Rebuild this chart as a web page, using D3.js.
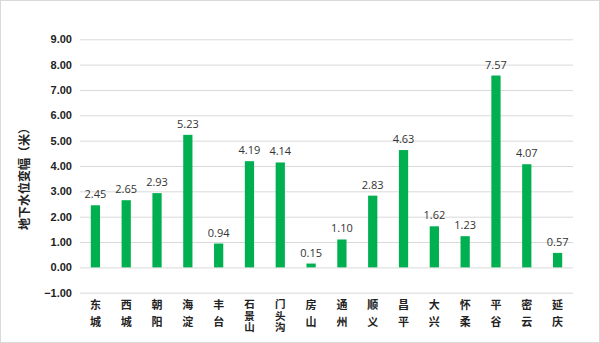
<!DOCTYPE html>
<html><head><meta charset="utf-8">
<script src="https://cdn.jsdelivr.net/npm/d3@7"></script>
<style>body{margin:0;background:#fff}svg{display:block}</style>
</head><body>
<svg id="c" width="600" height="343"></svg>
<script>
const categories = ["东城","西城","朝阳","海淀","丰台","石景山","门头沟","房山","通州","顺义","昌平","大兴","怀柔","平谷","密云","延庆"];
const values = [2.45,2.65,2.93,5.23,0.94,4.19,4.14,0.15,1.10,2.83,4.63,1.62,1.23,7.57,4.07,0.57];
const yTicks = [-1,0,1,2,3,4,5,6,7,8,9];
const yTitle = "地下水位变幅（米）";

(function(){
const svg = d3.select("#c");
svg.append("rect").attr("x",0.5).attr("y",0.5).attr("width",599).attr("height",342)
  .attr("fill","#fff").attr("stroke","#d9d9d9");

const mL=80, mR=573, mT=39.3, mB=292.7;
const y = d3.scaleLinear().domain([-1,9]).range([mB, mT]);
const x = d3.scaleBand().domain(categories).range([mL,mR]).paddingInner(0.7).paddingOuter(0.35);

const yAxis = d3.axisLeft(y).tickValues(yTicks).tickFormat(d3.format(".2f")).tickSize(-(mR-mL)).tickPadding(8);
const gy = svg.append("g").attr("transform",`translate(${mL},0)`).call(yAxis);
gy.select(".domain").remove();
gy.selectAll(".tick line").attr("stroke","#d9d9d9").attr("stroke-width",1);
gy.selectAll(".tick text").attr("font-family","'Liberation Sans', Arial, sans-serif")
  .attr("font-size",11).attr("font-weight","bold").attr("fill","#222");

svg.append("text").attr("transform",`translate(29,176) rotate(-90)`)
  .attr("text-anchor","middle").attr("font-family","'Noto Sans CJK SC', sans-serif")
  .attr("font-size",12).attr("font-weight","bold").attr("fill","#222").text(yTitle);

svg.append("g").selectAll("rect").data(values).join("rect")
  .attr("x",(d,i)=>x(categories[i])).attr("width",x.bandwidth())
  .attr("y",d=>y(Math.max(0,d))).attr("height",d=>Math.abs(y(d)-y(0)))
  .attr("fill","#00B050");

svg.append("g").selectAll("text").data(values).join("text")
  .attr("x",(d,i)=>x(categories[i])+x.bandwidth()/2).attr("y",d=>y(d)-7)
  .attr("text-anchor","middle").attr("font-family","'Open Sans', sans-serif")
  .attr("font-size",11).attr("fill","#333").text(d=>d.toFixed(2));

svg.append("g").selectAll("text").data(categories).join("text")
  .attr("x",c=>x(c)+x.bandwidth()/2).attr("y",299)
  .attr("text-anchor","start")
  .style("writing-mode","vertical-rl")
  .attr("font-family","'Noto Sans CJK SC', sans-serif")
  .attr("font-size",c=>Array.from(c).length>2?10.5:11)
  .attr("letter-spacing",c=>Array.from(c).length>2?1:6)
  .attr("font-weight","bold").attr("fill","#222").text(c=>c);
})();
</script>
</body></html>
